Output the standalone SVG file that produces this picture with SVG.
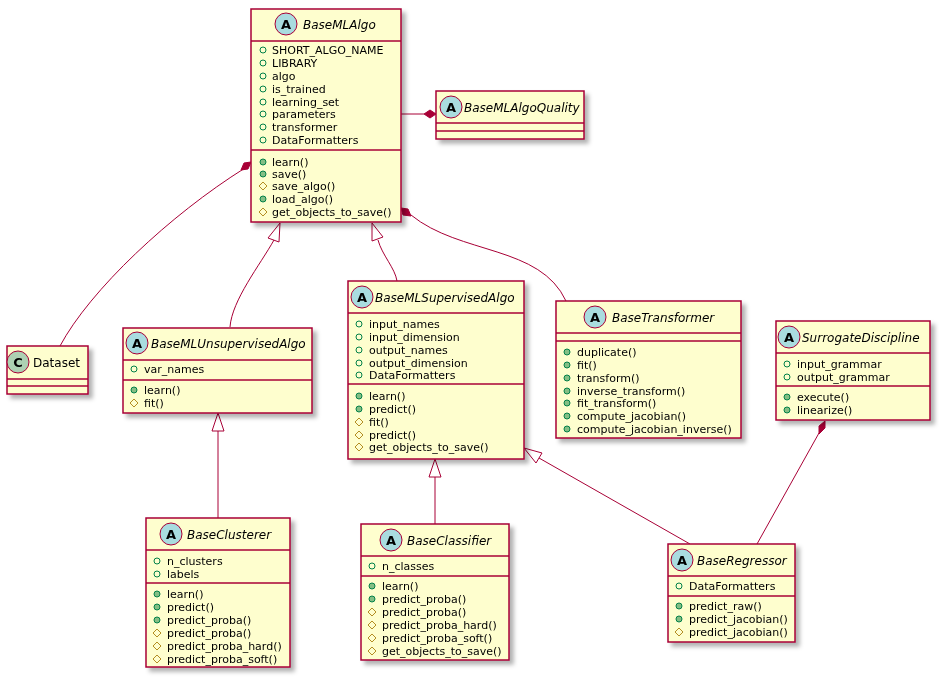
<svg xmlns="http://www.w3.org/2000/svg" width="939" height="678" viewBox="0 0 939 678">
<style>
.box{fill:#FEFECE;stroke:#A80036;stroke-width:1.5}
.ln{stroke:#A80036;stroke-width:1.5}
.ic{fill:#A9DCDF;stroke:#A80036;stroke-width:1}
.icc{fill:#ADD1B2;stroke:#A80036;stroke-width:1}
.il{font-family:"DejaVu Sans",sans-serif;font-size:13px;font-weight:bold;text-anchor:middle;fill:#000}
.t{font-family:"DejaVu Sans",sans-serif;font-size:12px;font-style:italic;fill:#000}
.tn{font-family:"DejaVu Sans",sans-serif;font-size:12px;fill:#000}
.m{font-family:"DejaVu Sans",sans-serif;font-size:11px;fill:#000}
.pa{fill:none;stroke:#038048;stroke-width:1}
.pm{fill:#84BE84;stroke:#038048;stroke-width:1}
.pr{fill:none;stroke:#B38D22;stroke-width:1}
.c{fill:none;stroke:#A80036;stroke-width:1}
.dia{fill:#A80036;stroke:#A80036;stroke-width:1}
.tri{fill:#FFFFFF;stroke:#A80036;stroke-width:1}
</style>
<defs>
<filter id="sh" x="-10%" y="-10%" width="130%" height="130%"><feDropShadow dx="4" dy="4" stdDeviation="2" flood-color="#000" flood-opacity="0.3"/></filter>
<circle id="a" r="3" class="pa"/>
<circle id="f" r="3" class="pm"/>
<path id="p" d="M0,-4 L4,0 L0,4 L-4,0 Z" class="pr"/>
</defs>

<g id="connectors">
<path class="c" d="M245,168 C170,215 90,290 60,346"/>
<path class="dia" d="M251,162 L244,163 L241,170 L248,169 Z"/>
<path class="c" d="M401,114 L424,114"/>
<path class="dia" d="M436,114 L430,110 L424,114 L430,118 Z"/>
<path class="c" d="M411,215 C460,255 540,245 566,301"/>
<path class="dia" d="M401,208 L403,215 L411,216 L408,209 Z"/>
<path class="c" d="M230,327 C232,300 260,265 274,240"/>
<path class="tri" d="M280,223 L268,238 L279,242 Z"/>
<path class="c" d="M397,281 C395,268 382,255 378,240"/>
<path class="tri" d="M372,223 L372,241 L383,237 Z"/>
<path class="c" d="M218,518 L218,431"/>
<path class="tri" d="M218,413 L212,431 L224,431 Z"/>
<path class="c" d="M435,524 L435,477"/>
<path class="tri" d="M435,459 L429,477 L441,477 Z"/>
<path class="c" d="M690,544 L539,458"/>
<path class="tri" d="M524,448 L536,463 L542,453 Z"/>
<path class="c" d="M757,544 L819,433"/>
<path class="dia" d="M825,421 L819,426 L819,434 L825,428 Z"/>
</g>

<g id="BaseMLAlgo" filter="url(#sh)">
<rect class="box" x="251" y="9" width="150" height="213"/>
<line class="ln" x1="251" y1="41" x2="401" y2="41"/>
<line class="ln" x1="251" y1="150" x2="401" y2="150"/>
<circle class="ic" cx="286" cy="24" r="11"/><text class="il" x="286" y="29">A</text>
<text class="t" x="303" y="29">BaseMLAlgo</text>
<use href="#a" x="263" y="50"/><text class="m" x="272" y="54">SHORT_ALGO_NAME</text>
<use href="#a" x="263" y="63"/><text class="m" x="272" y="67">LIBRARY</text>
<use href="#a" x="263" y="76"/><text class="m" x="272" y="80">algo</text>
<use href="#a" x="263" y="89"/><text class="m" x="272" y="93">is_trained</text>
<use href="#a" x="263" y="102"/><text class="m" x="272" y="106">learning_set</text>
<use href="#a" x="263" y="114"/><text class="m" x="272" y="118">parameters</text>
<use href="#a" x="263" y="127"/><text class="m" x="272" y="131">transformer</text>
<use href="#a" x="263" y="140"/><text class="m" x="272" y="144">DataFormatters</text>
<use href="#f" x="263" y="162"/><text class="m" x="272" y="166">learn()</text>
<use href="#f" x="263" y="174"/><text class="m" x="272" y="178">save()</text>
<use href="#p" x="263" y="186"/><text class="m" x="272" y="190">save_algo()</text>
<use href="#f" x="263" y="199"/><text class="m" x="272" y="203">load_algo()</text>
<use href="#p" x="263" y="212"/><text class="m" x="272" y="216">get_objects_to_save()</text>
</g>

<g id="BaseMLAlgoQuality" filter="url(#sh)">
<rect class="box" x="436" y="91" width="148" height="48"/>
<line class="ln" x1="436" y1="123" x2="584" y2="123"/>
<line class="ln" x1="436" y1="131" x2="584" y2="131"/>
<circle class="ic" cx="451" cy="107" r="11"/><text class="il" x="451" y="112">A</text>
<text class="t" x="464" y="112">BaseMLAlgoQuality</text>
</g>

<g id="Dataset" filter="url(#sh)">
<rect class="box" x="7" y="346" width="81" height="48"/>
<line class="ln" x1="7" y1="379" x2="88" y2="379"/>
<line class="ln" x1="7" y1="386" x2="88" y2="386"/>
<circle class="icc" cx="18" cy="362" r="11"/><text class="il" x="18" y="367">C</text>
<text class="tn" x="33" y="367">Dataset</text>
</g>

<g id="BaseMLUnsupervisedAlgo" filter="url(#sh)">
<rect class="box" x="123" y="328" width="189" height="85"/>
<line class="ln" x1="123" y1="360" x2="312" y2="360"/>
<line class="ln" x1="123" y1="380" x2="312" y2="380"/>
<circle class="ic" cx="137" cy="343" r="11"/><text class="il" x="137" y="348">A</text>
<text class="t" x="151" y="348">BaseMLUnsupervisedAlgo</text>
<use href="#a" x="134" y="369"/><text class="m" x="144" y="373">var_names</text>
<use href="#f" x="134" y="390"/><text class="m" x="144" y="394">learn()</text>
<use href="#p" x="134" y="403"/><text class="m" x="144" y="407">fit()</text>
</g>

<g id="BaseMLSupervisedAlgo" filter="url(#sh)">
<rect class="box" x="348" y="281" width="176" height="178"/>
<line class="ln" x1="348" y1="313" x2="524" y2="313"/>
<line class="ln" x1="348" y1="384" x2="524" y2="384"/>
<circle class="ic" cx="362" cy="297" r="11"/><text class="il" x="362" y="302">A</text>
<text class="t" x="375" y="302">BaseMLSupervisedAlgo</text>
<use href="#a" x="359" y="324"/><text class="m" x="369" y="328">input_names</text>
<use href="#a" x="359" y="337"/><text class="m" x="369" y="341">input_dimension</text>
<use href="#a" x="359" y="350"/><text class="m" x="369" y="354">output_names</text>
<use href="#a" x="359" y="363"/><text class="m" x="369" y="367">output_dimension</text>
<use href="#a" x="359" y="375"/><text class="m" x="369" y="379">DataFormatters</text>
<use href="#f" x="359" y="396"/><text class="m" x="369" y="400">learn()</text>
<use href="#f" x="359" y="409"/><text class="m" x="369" y="413">predict()</text>
<use href="#p" x="359" y="422"/><text class="m" x="369" y="426">fit()</text>
<use href="#p" x="359" y="435"/><text class="m" x="369" y="439">predict()</text>
<use href="#p" x="359" y="447"/><text class="m" x="369" y="451">get_objects_to_save()</text>
</g>

<g id="BaseTransformer" filter="url(#sh)">
<rect class="box" x="556" y="301" width="185" height="137"/>
<line class="ln" x1="556" y1="333" x2="741" y2="333"/>
<line class="ln" x1="556" y1="341" x2="741" y2="341"/>
<circle class="ic" cx="595" cy="317" r="11"/><text class="il" x="595" y="322">A</text>
<text class="t" x="612" y="322">BaseTransformer</text>
<use href="#f" x="567" y="352"/><text class="m" x="577" y="356">duplicate()</text>
<use href="#f" x="567" y="365"/><text class="m" x="577" y="369">fit()</text>
<use href="#f" x="567" y="378"/><text class="m" x="577" y="382">transform()</text>
<use href="#f" x="567" y="391"/><text class="m" x="577" y="395">inverse_transform()</text>
<use href="#f" x="567" y="403"/><text class="m" x="577" y="407">fit_transform()</text>
<use href="#f" x="567" y="416"/><text class="m" x="577" y="420">compute_jacobian()</text>
<use href="#f" x="567" y="429"/><text class="m" x="577" y="433">compute_jacobian_inverse()</text>
</g>

<g id="SurrogateDiscipline" filter="url(#sh)">
<rect class="box" x="776" y="321" width="154" height="99"/>
<line class="ln" x1="776" y1="353" x2="930" y2="353"/>
<line class="ln" x1="776" y1="386" x2="930" y2="386"/>
<circle class="ic" cx="789" cy="337" r="11"/><text class="il" x="789" y="342">A</text>
<text class="t" x="802" y="342">SurrogateDiscipline</text>
<use href="#a" x="787" y="364"/><text class="m" x="797" y="368">input_grammar</text>
<use href="#a" x="787" y="377"/><text class="m" x="797" y="381">output_grammar</text>
<use href="#f" x="787" y="397"/><text class="m" x="797" y="401">execute()</text>
<use href="#f" x="787" y="410"/><text class="m" x="797" y="414">linearize()</text>
</g>

<g id="BaseClusterer" filter="url(#sh)">
<rect class="box" x="146" y="518" width="144" height="149"/>
<line class="ln" x1="146" y1="550" x2="290" y2="550"/>
<line class="ln" x1="146" y1="583" x2="290" y2="583"/>
<circle class="ic" cx="171" cy="534" r="11"/><text class="il" x="171" y="539">A</text>
<text class="t" x="187" y="539">BaseClusterer</text>
<use href="#a" x="157" y="561"/><text class="m" x="167" y="565">n_clusters</text>
<use href="#a" x="157" y="574"/><text class="m" x="167" y="578">labels</text>
<use href="#f" x="157" y="594"/><text class="m" x="167" y="598">learn()</text>
<use href="#f" x="157" y="607"/><text class="m" x="167" y="611">predict()</text>
<use href="#f" x="157" y="620"/><text class="m" x="167" y="624">predict_proba()</text>
<use href="#p" x="157" y="633"/><text class="m" x="167" y="637">predict_proba()</text>
<use href="#p" x="157" y="646"/><text class="m" x="167" y="650">predict_proba_hard()</text>
<use href="#p" x="157" y="659"/><text class="m" x="167" y="663">predict_proba_soft()</text>
</g>

<g id="BaseClassifier" filter="url(#sh)">
<rect class="box" x="361" y="524" width="148" height="136"/>
<line class="ln" x1="361" y1="556" x2="509" y2="556"/>
<line class="ln" x1="361" y1="576" x2="509" y2="576"/>
<circle class="ic" cx="391" cy="540" r="11"/><text class="il" x="391" y="545">A</text>
<text class="t" x="407" y="545">BaseClassifier</text>
<use href="#a" x="372" y="566"/><text class="m" x="382" y="570">n_classes</text>
<use href="#f" x="372" y="586"/><text class="m" x="382" y="590">learn()</text>
<use href="#f" x="372" y="599"/><text class="m" x="382" y="603">predict_proba()</text>
<use href="#p" x="372" y="612"/><text class="m" x="382" y="616">predict_proba()</text>
<use href="#p" x="372" y="625"/><text class="m" x="382" y="629">predict_proba_hard()</text>
<use href="#p" x="372" y="638"/><text class="m" x="382" y="642">predict_proba_soft()</text>
<use href="#p" x="372" y="651"/><text class="m" x="382" y="655">get_objects_to_save()</text>
</g>

<g id="BaseRegressor" filter="url(#sh)">
<rect class="box" x="668" y="544" width="127" height="98"/>
<line class="ln" x1="668" y1="576" x2="795" y2="576"/>
<line class="ln" x1="668" y1="596" x2="795" y2="596"/>
<circle class="ic" cx="682" cy="560" r="11"/><text class="il" x="682" y="565">A</text>
<text class="t" x="697" y="565">BaseRegressor</text>
<use href="#a" x="679" y="586"/><text class="m" x="689" y="590">DataFormatters</text>
<use href="#f" x="679" y="606"/><text class="m" x="689" y="610">predict_raw()</text>
<use href="#f" x="679" y="619"/><text class="m" x="689" y="623">predict_jacobian()</text>
<use href="#p" x="679" y="632"/><text class="m" x="689" y="636">predict_jacobian()</text>
</g>
</svg>
